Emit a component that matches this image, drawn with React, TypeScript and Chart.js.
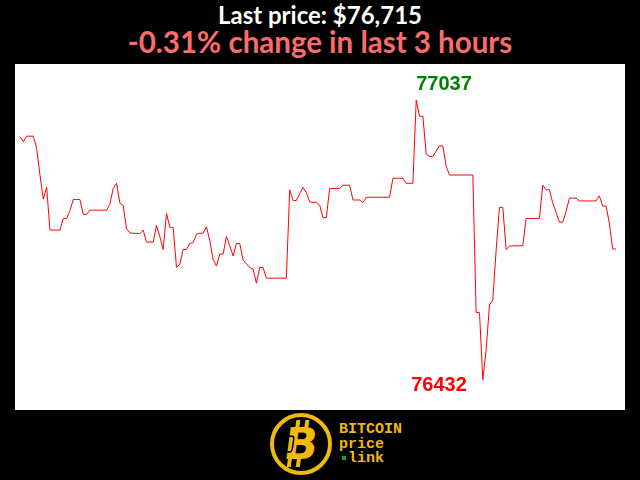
import React, { useEffect, useRef } from "react";
import { Chart, registerables } from "chart.js";

Chart.register(...registerables);

const titleText = "Last price: $76,715";
const changeText = "-0.31% change in last 3 hours";

// Minute prices over the last 3 hours (180 points)
const prices: number[] = [
  76958, 76947, 76959, 76959, 76959, 76933, 76875, 76823, 76849, 76756,
  76756, 76756, 76756, 76781, 76781, 76798, 76822, 76822, 76822, 76790,
  76790, 76799, 76799, 76799, 76799, 76799, 76799, 76812, 76846, 76857,
  76814, 76809, 76759, 76750, 76749, 76749, 76748, 76756, 76730, 76730,
  76730, 76766, 76742, 76714, 76792, 76762, 76762, 76675, 76682, 76714,
  76714, 76727, 76729, 76747, 76749, 76749, 76763, 76733, 76693, 76678,
  76704, 76704, 76742, 76722, 76700, 76727, 76727, 76691, 76683, 76675,
  76672, 76641, 76675, 76675, 76652, 76652, 76652, 76652, 76652, 76652,
  76652, 76843, 76820, 76820, 76835, 76848, 76837, 76817, 76816, 76816,
  76810, 76783, 76783, 76846, 76846, 76846, 76846, 76853, 76853, 76853,
  76821, 76821, 76821, 76815, 76827, 76827, 76827, 76827, 76827, 76827,
  76827, 76827, 76868, 76868, 76868, 76868, 76857, 76857, 76857, 77037,
  77002, 77002, 76920, 76915, 76915, 76927, 76938, 76938, 76894, 76875,
  76875, 76875, 76875, 76875, 76875, 76875, 76875, 76578, 76578, 76432,
  76497, 76594, 76605, 76713, 76805, 76805, 76714, 76721, 76722, 76722,
  76722, 76722, 76781, 76781, 76781, 76781, 76781, 76853, 76843, 76843,
  76815, 76794, 76773, 76773, 76796, 76825, 76825, 76825, 76819, 76819,
  76819, 76819, 76819, 76819, 76830, 76808, 76808, 76771, 76715, 76715,
];

const yMin = 76367;
const yMax = 77115;
const xMin = -1.5;
const xMax = 181.7;

const extremesPlugin = {
  id: "extremes",
  afterDatasetsDraw(chart: any) {
    const meta = chart.getDatasetMeta(0);
    let maxI = 0;
    let minI = 0;
    prices.forEach((v, i) => {
      if (v > prices[maxI]) maxI = i;
      if (v < prices[minI]) minI = i;
    });
    const ctx = chart.ctx;
    const pMax = meta.data[maxI];
    const pMin = meta.data[minI];
    ctx.save();
    ctx.font = "bold 20px 'Liberation Sans', Arial, sans-serif";
    ctx.textBaseline = "alphabetic";
    ctx.fillStyle = "#008000";
    ctx.textAlign = "left";
    ctx.fillText(String(prices[maxI]), pMax.x, pMax.y - 10);
    ctx.fillStyle = "#ff0000";
    ctx.textAlign = "right";
    ctx.fillText(String(prices[minI]), pMin.x - 16, pMin.y + 11);
    ctx.restore();
  },
};

function Logo() {
  const gold = "#f0b90b";
  const mono = "'Liberation Mono', 'DejaVu Sans Mono', monospace";
  return (
    <svg width={160} height={70} style={{ position: "absolute", left: 260, top: 410 }}>
      <circle cx={41} cy={34} r={29} fill="#000" stroke={gold} strokeWidth={4} />
      <g transform="translate(41 34) skewX(-8)">
        <rect x={-8} y={-24} width={4} height={8} fill={gold} />
        <rect x={1} y={-24} width={4} height={8} fill={gold} />
        <rect x={-11} y={15} width={4} height={8} fill={gold} />
        <rect x={-2} y={15} width={4} height={8} fill={gold} />
        <text
          x={0}
          y={15}
          textAnchor="middle"
          fontFamily="'DejaVu Sans', sans-serif"
          fontWeight="bold"
          fontSize={44}
          fill={gold}
        >
          B
        </text>
        <rect x={-14} y={-8} width={6} height={16} rx={3} fill="none" stroke="#000" strokeWidth={1.5} />
      </g>
      <text x={79} y={23} fontFamily={mono} fontWeight="bold" fontSize={15} fill={gold}>
        BITCOIN
      </text>
      <text x={79} y={38} fontFamily={mono} fontWeight="bold" fontSize={15} fill={gold}>
        price
      </text>
      <rect x={82} y={46} width={4} height={4} fill="#1fa01f" />
      <text x={88} y={52} fontFamily={mono} fontWeight="bold" fontSize={15} fill={gold}>
        link
      </text>
    </svg>
  );
}

export default function App() {
  const ref = useRef<HTMLCanvasElement>(null);

  useEffect(() => {
    if (!ref.current) return;
    const chart = new Chart(ref.current, {
      type: "line",
      data: {
        datasets: [
          {
            data: prices.map((v, i) => ({ x: i, y: v })),
            borderColor: "#ff0000",
            borderWidth: 1,
            pointRadius: 0,
            tension: 0,
            fill: false,
          },
        ],
      },
      options: {
        animation: false,
        responsive: false,
        maintainAspectRatio: false,
        layout: { padding: 0 },
        plugins: { legend: { display: false }, tooltip: { enabled: false } },
        scales: {
          x: { type: "linear", display: false, min: xMin, max: xMax },
          y: { display: false, min: yMin, max: yMax },
        },
      },
      plugins: [extremesPlugin],
    });
    return () => chart.destroy();
  }, []);

  return (
    <div
      style={{
        position: "fixed",
        left: 0,
        top: 0,
        width: 640,
        height: 480,
        background: "#000",
        overflow: "hidden",
      }}
    >
      <div
        style={{
          position: "absolute",
          left: 0,
          top: 1,
          width: 640,
          textAlign: "center",
          color: "#fff",
          fontFamily: "Lato, sans-serif",
          fontWeight: "bold",
          fontSize: 24,
          lineHeight: "28px",
        }}
      >
        {titleText}
      </div>
      <div
        style={{
          position: "absolute",
          left: 0,
          top: 25,
          width: 640,
          textAlign: "center",
          color: "#ff6b6b",
          fontFamily: "Lato, sans-serif",
          fontWeight: "bold",
          fontSize: 29.5,
          lineHeight: "34px",
        }}
      >
        {changeText}
      </div>
      <canvas
        ref={ref}
        width={610}
        height={346}
        style={{ position: "absolute", left: 15, top: 64, width: 610, height: 346, background: "#fff", display: "block" }}
      />
      <Logo />
    </div>
  );
}
